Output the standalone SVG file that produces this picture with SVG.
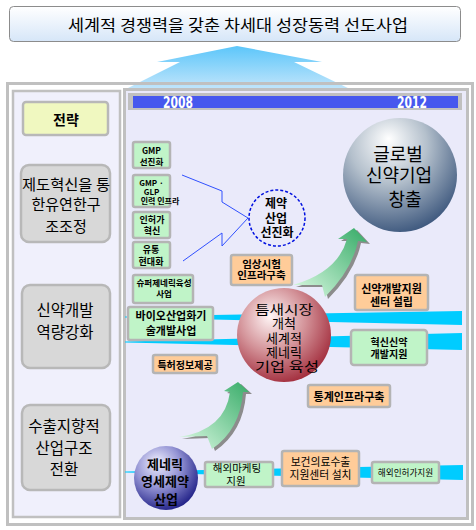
<svg xmlns="http://www.w3.org/2000/svg" width="476" height="530" viewBox="0 0 476 530">
<style>
text{font-family:"Noto Sans CJK KR",sans-serif;dominant-baseline:central;text-anchor:middle;fill:#000}
.b{font-weight:bold}
.g{fill:#c0f4c8;stroke:#b4b4b4;stroke-width:2.5}
.o{fill:#ffcc99;stroke:#b4b4b4;stroke-width:2.5}
.l{fill:#d8d8d8;stroke:#b8b8b8;stroke-width:2.5}
.bar{fill:#00ccff}
.zz{fill:none;stroke:#3050ff;stroke-width:1}
.yr{font-family:"DejaVu Sans Condensed","Liberation Sans",sans-serif;font-weight:bold;fill:#fff;font-size:15px}
</style>
<defs>
<linearGradient id="tg" x1="0" y1="0" x2="0" y2="1"><stop offset="0" stop-color="#ffffff"/><stop offset="1" stop-color="#d6e6f8"/></linearGradient>
<linearGradient id="ag" x1="0" y1="0" x2="0" y2="1"><stop offset="0" stop-color="#5cc6fa"/><stop offset="1" stop-color="#c4e6fb"/></linearGradient>
<linearGradient id="gA" gradientUnits="userSpaceOnUse" x1="293" y1="297" x2="360" y2="228"><stop offset="0" stop-color="#e0fce6"/><stop offset="1" stop-color="#3cae6c"/></linearGradient>
<linearGradient id="gB" gradientUnits="userSpaceOnUse" x1="179" y1="449" x2="245" y2="382"><stop offset="0" stop-color="#e0fce6"/><stop offset="1" stop-color="#3cae6c"/></linearGradient>
<radialGradient id="sg" cx="0.4" cy="0.3" r="0.75" fx="0.4" fy="0.18"><stop offset="0" stop-color="#ffffff"/><stop offset="0.45" stop-color="#b4c0cc"/><stop offset="1" stop-color="#38537a"/></radialGradient>
<radialGradient id="rg" cx="0.4" cy="0.35" r="0.7" fx="0.35" fy="0.3"><stop offset="0" stop-color="#fff6f6"/><stop offset="0.5" stop-color="#d4949a"/><stop offset="1" stop-color="#a02838"/></radialGradient>
<radialGradient id="bg" cx="0.4" cy="0.35" r="0.7" fx="0.35" fy="0.25"><stop offset="0" stop-color="#f0f0ff"/><stop offset="0.5" stop-color="#9494d4"/><stop offset="1" stop-color="#1c1c84"/></radialGradient>
</defs>

<g id="title">
<rect x="9.5" y="6.5" width="451" height="35" rx="4" fill="url(#tg)" stroke="#8c8c8c" stroke-width="1"/>
<text x="238" y="24" font-size="16" textLength="340" lengthAdjust="spacingAndGlyphs">세계적 경쟁력을 갖춘 차세대 성장동력 선도사업</text>
</g>

<g id="big-arrow">
<polygon points="237,46 322,62 294,62 352,90 124,90 180,62 157,62" fill="url(#ag)"/>
</g>

<g id="frame">
<rect x="7.5" y="83.5" width="465" height="441" fill="none" stroke="#c0c0c0" stroke-width="3"/>
<rect x="13" y="91" width="107" height="426" fill="#f0f0fc" stroke="#c0c0c0" stroke-width="2.5"/>
<rect x="124.5" y="89.5" width="343" height="429" fill="#eaeafa" stroke="#c0c0c0" stroke-width="3"/>
</g>

<g id="years">
<rect x="128" y="93" width="334" height="17" fill="#c0c0c0"/>
<rect x="133" y="96" width="325" height="12" fill="#4658ee"/>
<text class="yr" x="178" y="102.5" textLength="30" lengthAdjust="spacingAndGlyphs">2008</text>
<text class="yr" x="412" y="102.5" textLength="30" lengthAdjust="spacingAndGlyphs">2012</text>
</g>

<g id="strategy">
<rect x="23" y="102" width="85" height="33" rx="3" fill="#f0f8c0" stroke="#b8b8b8" stroke-width="2.5"/>
<text x="66" y="119" font-size="14" class="b">전략</text>
</g>
<g id="s1">
<rect class="l" x="21" y="165" width="89" height="77" rx="8"/>
<text x="66" y="183" font-size="15" textLength="88" lengthAdjust="spacingAndGlyphs">제도혁신을 통</text>
<text x="66" y="203" font-size="15">한유연한구</text>
<text x="66" y="225" font-size="15">조조정</text>
</g>
<g id="s2">
<rect class="l" x="22" y="285" width="88" height="83" rx="8"/>
<text x="65" y="309" font-size="15.5">신약개발</text>
<text x="65" y="331" font-size="15.5">역량강화</text>
</g>
<g id="s3">
<rect class="l" x="22" y="405" width="88" height="85" rx="8"/>
<text x="64" y="425" font-size="15.5">수출지향적</text>
<text x="64" y="447" font-size="15.5">산업구조</text>
<text x="64" y="468" font-size="15.5">전환</text>
</g>

<g id="connectors">
<polygon class="bar" points="125,316.5 462,311 462,325 125,317.5"/>
<polygon class="bar" points="125,341.5 462,333 462,350 125,342.5"/>
<polygon class="bar" points="125,471.5 463,465 463,480 125,472.5"/>
<polyline class="zz" points="182,175 222,191 222,202 248,218"/>
<polyline class="zz" points="183,261 222,233 222,246 248,218"/>
<path d="M354,228 L367,242 L358,241 Q352,270 325,297 L322,285 L293,285 Q338,272 347,239 L338,239 Z" fill="#8c8c8c" transform="translate(3,2)"/>
<path d="M354,228 L367,242 L358,241 Q352,270 325,297 L322,285 L293,285 Q338,272 347,239 L338,239 Z" fill="url(#gA)"/>
<path d="M238,382 L249,392 L243,392 Q240,430 212,449 L207,436 L179,437 Q225,430 230,392 L224,391 Z" fill="#8c8c8c" transform="translate(3,2)"/>
<path d="M238,382 L249,392 L243,392 Q240,430 212,449 L207,436 L179,437 Q225,430 230,392 L224,391 Z" fill="url(#gB)"/>
</g>

<g id="gmp">
<rect class="g" x="133" y="142" width="37" height="26" rx="2"/>
<text x="151.5" y="150" font-size="8.5" class="b">GMP</text>
<text x="151.5" y="161" font-size="8.5" class="b">선진화</text>
</g>
<g id="glp">
<rect class="g" x="133" y="175" width="37" height="32" rx="2"/>
<text x="151.5" y="182" font-size="8" class="b">GMP ·</text>
<text x="151.5" y="191" font-size="8" class="b">GLP</text>
<text x="160" y="200.5" font-size="8" class="b">인력 인프라</text>
</g>
<g id="license">
<rect class="g" x="133" y="212" width="37" height="26" rx="2"/>
<text x="152" y="219" font-size="9" class="b">인허가</text>
<text x="152" y="230" font-size="9" class="b">혁신</text>
</g>
<g id="dist">
<rect class="g" x="133" y="242" width="37" height="26" rx="2"/>
<text x="151" y="249" font-size="9" class="b">유통</text>
<text x="151" y="261" font-size="9" class="b">현대화</text>
</g>
<g id="super">
<rect class="g" x="133" y="275" width="60" height="28" rx="2"/>
<text x="164" y="282" font-size="8.5" class="b" textLength="55" lengthAdjust="spacingAndGlyphs">슈퍼제네릭육성</text>
<text x="164" y="293" font-size="8.5" class="b">사업</text>
</g>
<g id="pharma-adv">
<circle cx="277" cy="218" r="28" fill="none" stroke="#0010e0" stroke-width="1.5" stroke-dasharray="3 2"/>
<text x="276" y="202" font-size="12" class="b">제약</text>
<text x="276" y="217" font-size="12" class="b">산업</text>
<text x="277" y="231" font-size="12" class="b">선진화</text>
</g>
<g id="global">
<circle cx="400" cy="175" r="57" fill="url(#sg)"/>
<text x="398" y="153" font-size="18">글로벌</text>
<text x="399" y="174" font-size="18">신약기업</text>
<text x="405" y="198" font-size="18">창출</text>
</g>
<g id="clinical">
<rect class="o" x="231" y="255" width="61" height="30" rx="2"/>
<text x="261.5" y="263" font-size="10.5" class="b">임상시험</text>
<text x="261.5" y="274" font-size="10.5" class="b">인프라구축</text>
</g>
<g id="bio">
<rect class="g" x="128" y="307" width="85" height="33" rx="2"/>
<text x="171" y="315" font-size="11" class="b">바이오산업화기</text>
<text x="171" y="330" font-size="11" class="b">술개발사업</text>
</g>
<g id="patent">
<rect class="o" x="153" y="355" width="64" height="18" rx="2"/>
<text x="185" y="364" font-size="10" class="b">특허정보제공</text>
</g>
<g id="niche">
<circle cx="284" cy="335" r="47" fill="url(#rg)"/>
<text x="284" y="308" font-size="13" textLength="58" lengthAdjust="spacingAndGlyphs">틈새시장</text>
<text x="284" y="322" font-size="13">개척</text>
<text x="284" y="337" font-size="13">세계적</text>
<text x="284" y="351" font-size="13">제네릭</text>
<text x="287" y="365" font-size="13" textLength="64" lengthAdjust="spacingAndGlyphs">기업 육성</text>
</g>
<g id="center">
<rect class="o" x="355" y="275" width="73" height="35" rx="2"/>
<text x="391.5" y="288" font-size="11" class="b">신약개발지원</text>
<text x="391.5" y="301" font-size="11" class="b">센터 설립</text>
</g>
<g id="innov">
<rect class="g" x="351" y="330" width="76" height="35" rx="3"/>
<text x="389" y="341" font-size="10" class="b">혁신신약</text>
<text x="389" y="353" font-size="10" class="b">개발지원</text>
</g>
<g id="stats">
<rect class="o" x="308" y="385" width="82" height="22" rx="2"/>
<text x="349" y="396" font-size="11" class="b">통계인프라구축</text>
</g>
<g id="small">
<circle cx="166" cy="478" r="32" fill="url(#bg)"/>
<text x="165" y="463" font-size="13" class="b">제네릭</text>
<text x="165" y="480" font-size="13" class="b">영세제약</text>
<text x="166" y="498" font-size="13" class="b">산업</text>
</g>
<g id="marketing">
<rect class="g" x="205" y="462" width="68" height="25" rx="2"/>
<text x="237" y="467.5" font-size="10.5">해외마케팅</text>
<text x="236" y="480" font-size="10.5">지원</text>
</g>
<g id="export">
<rect class="o" x="282" y="451" width="77" height="35" rx="2"/>
<text x="320.5" y="461" font-size="10.8">보건의료수출</text>
<text x="320.5" y="474" font-size="10.8">지원센터 설치</text>
</g>
<g id="overseas">
<rect class="g" x="372" y="462" width="67" height="21" rx="2"/>
<text x="405.5" y="472" font-size="8.6">해외인허가지원</text>
</g>
</svg>
